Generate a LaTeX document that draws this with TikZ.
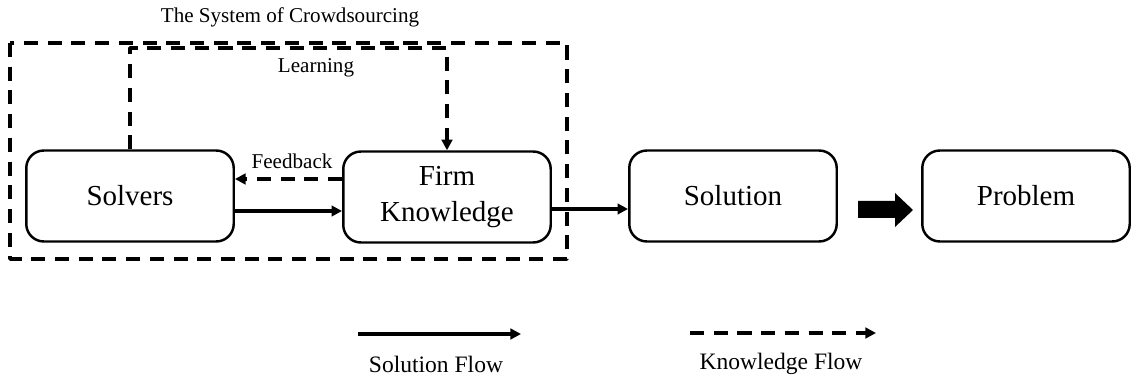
\documentclass[tikz,border=0pt]{standalone}
\usepackage{fontspec}
\setmainfont{Liberation Serif}
\usetikzlibrary{arrows.meta}
\begin{document}
\begin{tikzpicture}[x=0.02cm,y=-0.02cm,>={Triangle[length=6pt,width=6pt]},line join=round,
	box/.style={draw,line width=1.4pt,rounded corners=10pt,minimum width=4.15cm,minimum height=1.82cm,align=center,font=\fontsize{16.5}{20}\selectfont},
	sflow/.style={line width=2pt},
	kflow/.style={line width=2pt,dash pattern=on 8pt off 5.5pt},
	lbl/.style={font=\fontsize{12}{14}\selectfont}]
	\useasboundingbox (0,0) rectangle (1132,378);
	% boxes
	\node[box] (solvers) at (130,196) {Solvers};
	\node[box] (firm) at (447,197) {Firm\\Knowledge};
	\node[box] (solution) at (733,196) {Solution};
	\node[box] (problem) at (1026,196) {Problem};
	% system border
	\draw[kflow] (10,43) rectangle (567,259);
	\node[lbl] (title) at (290,17) {The System of Crowdsourcing};
	% learning and feedback
	\draw[kflow,->] (solvers.north) -- (solvers.north |- 0,48) -| (firm.north);
	\node[lbl] (learning) at (316,68) {Learning};
	\draw[kflow,->] (firm.west |- 0,179) -- (solvers.east |- 0,179);
	\node[lbl] (feedback) at (292,161) {Feedback};
	\draw[sflow,->] (solvers.east |- 0,211) -- (firm.west |- 0,211);
	\draw[sflow,->] (firm.east |- 0,209) -- (solution.west |- 0,209);
	% big arrow
	\fill (858,201) -- (895,201) -- (895,193) -- (913,210) -- (895,227) -- (895,218) -- (858,218) -- cycle;
	% legend
	\coordinate (s1) at (358,334); \coordinate (s2) at (521,334);
	\coordinate (k1) at (690,333); \coordinate (k2) at (876,333);
	\draw[sflow,->] (s1) -- (s2);
	\draw[kflow,->] (k1) -- (k2);
	\node[lbl,font=\fontsize{13.4}{15}\selectfont] (sflowlbl) at (436,364) {Solution Flow};
	\node[lbl,font=\fontsize{13.4}{15}\selectfont] (kflowlbl) at (781,364) {Knowledge Flow};
\end{tikzpicture}
\end{document}
